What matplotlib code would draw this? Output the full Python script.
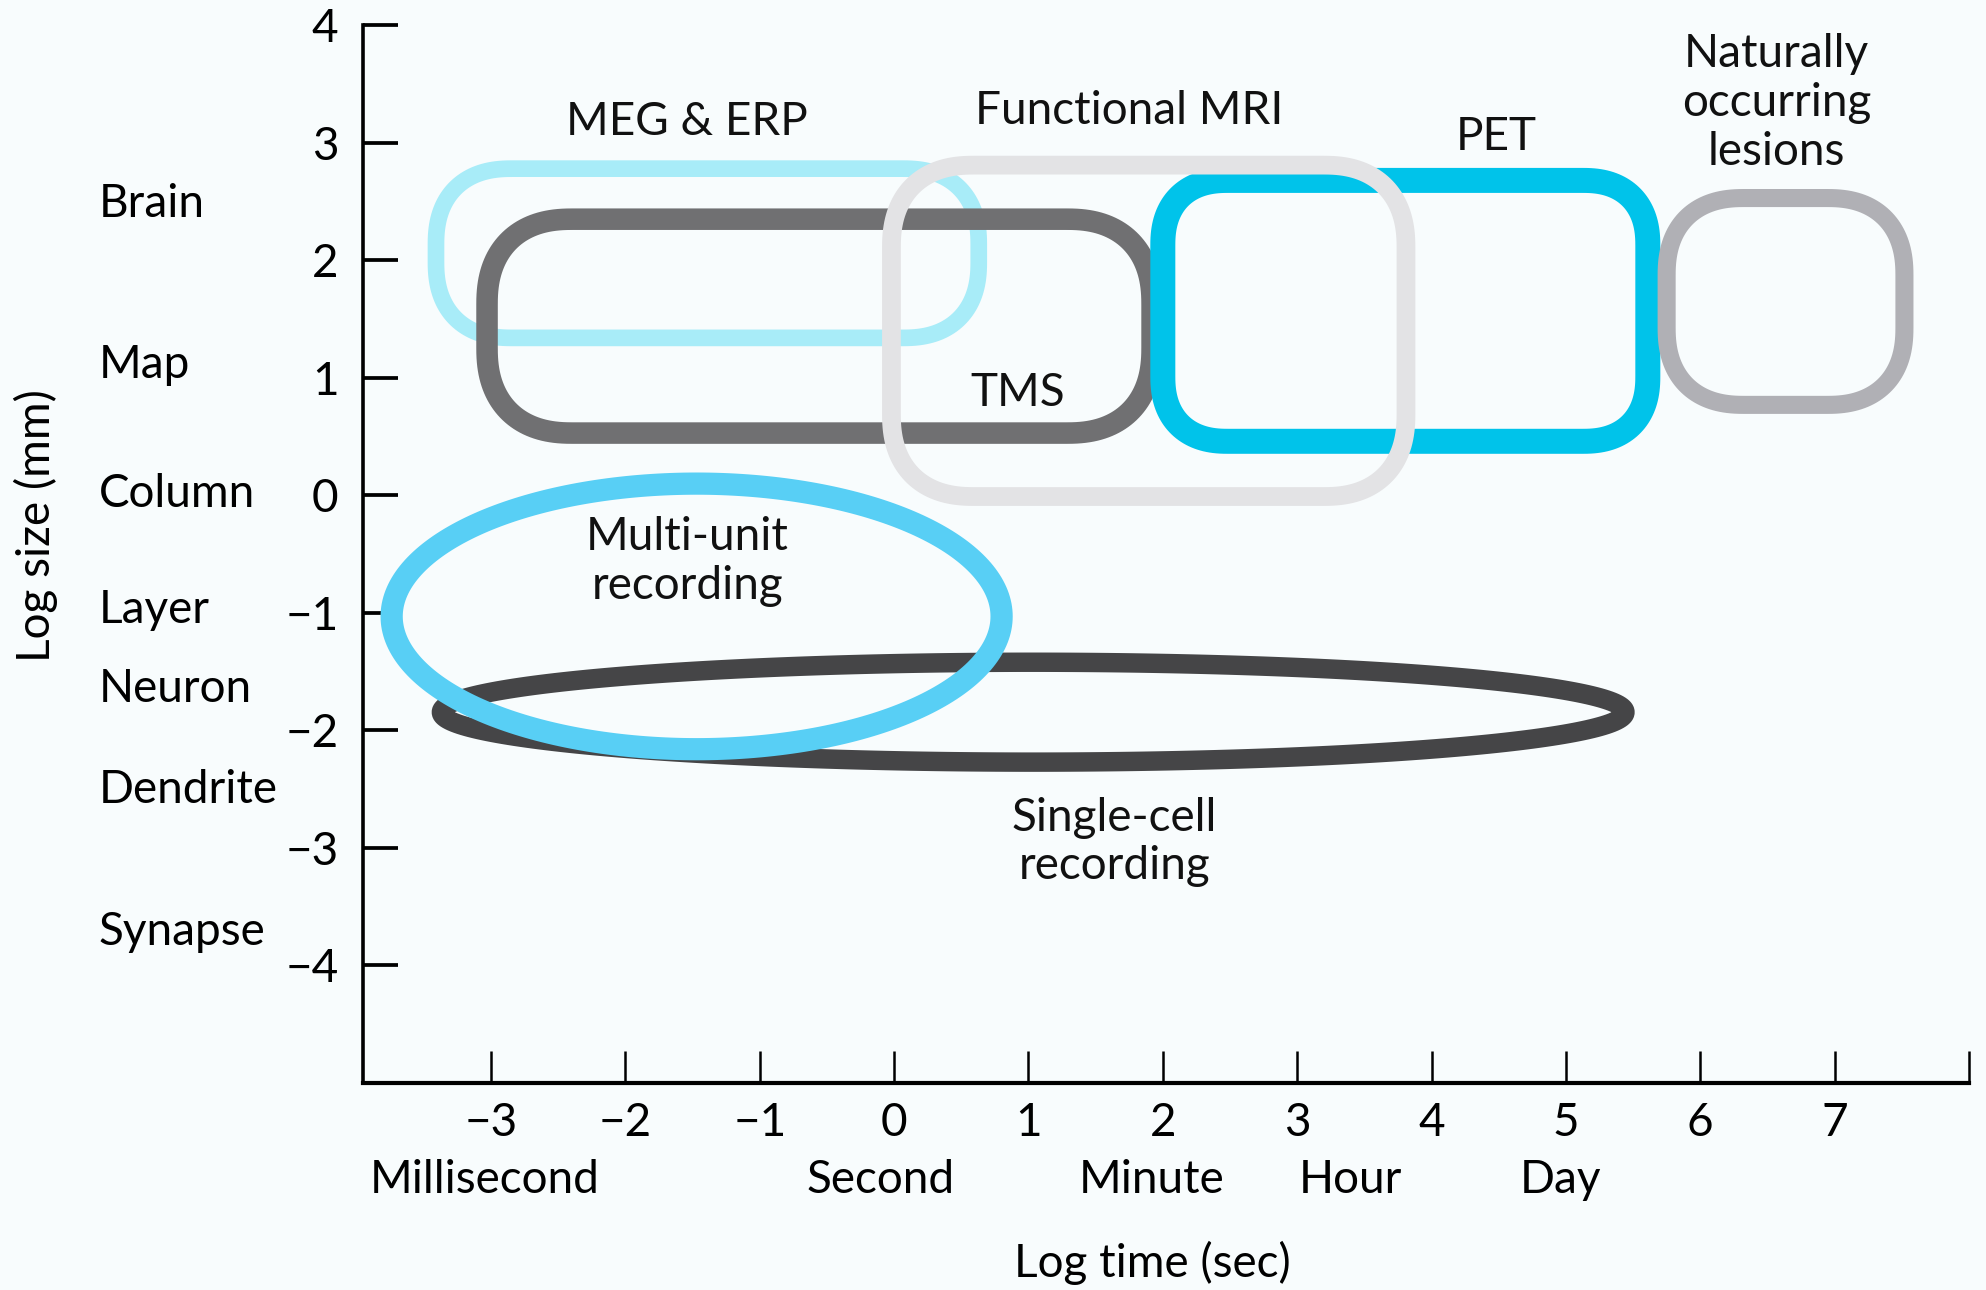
import matplotlib
matplotlib.use("Agg")
import matplotlib.pyplot as plt
import matplotlib.transforms as mtransforms
from matplotlib.patches import Polygon
import numpy as np

plt.rcParams['font.family'] = ['Lato', 'DejaVu Sans']

# Technique ranges: log time (s) and log size (mm)
Techniques = ['MEG & ERP', 'TMS', 'PET', 'Naturally occurring lesions', 'Functional MRI',
              'Single-cell recording', 'Multi-unit recording']
TimeLo = [-3.41, -3.03, 2.00, 5.75, -0.02, -3.37, -3.74]
TimeHi = [0.63, 1.92, 5.61, 7.52, 3.81, 5.44, 0.80]
SizeLo = [1.34, 0.53, 0.46, 0.77, -0.01, -2.27, -2.16]
SizeHi = [2.78, 2.35, 2.68, 2.53, 2.81, -1.42, 0.10]

# Text labels for each technique (centre, data coords)
LabelText = ['MEG & ERP', 'TMS', 'PET', 'Naturally\noccurring\nlesions', 'Functional MRI',
             'Single-cell\nrecording', 'Multi-unit\nrecording']
LabelX = [-1.54, 0.92, 4.48, 6.57, 1.75, 1.64, -1.54]
LabelY = [3.18, 0.87, 3.05, 3.34, 3.27, -2.95, -0.56]

# Anatomical scale names on the size axis
ScaleNames = ['Brain', 'Map', 'Column', 'Layer', 'Neuron', 'Dendrite', 'Synapse']
ScaleLogSize = [2.37, 1.00, -0.10, -1.09, -1.76, -2.62, -3.83]

# Time unit names on the time axis
TimeNames = ['Millisecond', 'Second', 'Minute', 'Hour', 'Day']
TimeLogSec = [-3.05, -0.10, 1.92, 3.40, 4.96]

XTicks = list(range(-3, 9))
XTickLabels = [str(v).replace('-', '\u2212') for v in range(-3, 8)] + ['']
YTicks = list(range(-4, 5))

# shape styles: (colour, line width, corner fraction; None = ellipse)
Styles = {
    'MEG & ERP': ('#a8ecf8', 12, 0.9),
    'TMS': ('#707072', 15.5, 0.8),
    'PET': ('#00c3ea', 18, 0.5),
    'Naturally occurring lesions': ('#b0b0b5', 13, 0.75),
    'Functional MRI': ('#e3e3e5', 13.5, 0.5),
    'Single-cell recording': ('#454547', 14, None),
    'Multi-unit recording': ('#58cff5', 16, None),
}


def RoundedLoop(Ax, X0, X1, Y0, Y1, Frac):
    """ Rounded rectangle whose corners are round in screen pixels. """
    Origin = Ax.transData.transform((0, 0))
    Sx = Ax.transData.transform((1, 0))[0] - Origin[0]
    Sy = Ax.transData.transform((0, 1))[1] - Origin[1]
    HalfW = (X1 - X0) / 2 * Sx
    HalfH = (Y1 - Y0) / 2 * Sy
    R = Frac * min(HalfW, HalfH)
    Rx, Ry = R / Sx, R / Sy
    Corners = [(X1 - Rx, Y1 - Ry, 0), (X0 + Rx, Y1 - Ry, 90),
               (X0 + Rx, Y0 + Ry, 180), (X1 - Rx, Y0 + Ry, 270)]
    Points = []
    for Cx, Cy, Start in Corners:
        T = np.radians(np.linspace(Start, Start + 90, 40))
        C, S = np.cos(T), np.sin(T)
        # slightly squarish corner (superellipse arc)
        Points.extend(zip(Cx + Rx * np.sign(C) * np.abs(C) ** 0.85,
                          Cy + Ry * np.sign(S) * np.abs(S) ** 0.85))
    return np.array(Points)


def EllipseLoop(X0, X1, Y0, Y1):
    T = np.linspace(0, 2 * np.pi, 300, endpoint=False)
    return np.column_stack(((X0 + X1) / 2 + (X1 - X0) / 2 * np.cos(T),
                            (Y0 + Y1) / 2 + (Y1 - Y0) / 2 * np.sin(T)))


Fig = plt.figure(figsize=(19.86, 12.90), dpi=100, facecolor='#f8fcfd')
Ax = Fig.add_axes([0.1830, 0.1605, 0.8084, 0.8199])
Ax.set_facecolor('#f8fcfd')
Ax.set_xlim(-3.95, 8.0)
Ax.set_ylim(-5.0, 4.0)

for i, Name in enumerate(Techniques):
    Color, Lw, Frac = Styles[Name]
    if Frac is None:
        Pts = EllipseLoop(TimeLo[i], TimeHi[i], SizeLo[i], SizeHi[i])
    else:
        Pts = RoundedLoop(Ax, TimeLo[i], TimeHi[i], SizeLo[i], SizeHi[i], Frac)
    Ax.add_patch(Polygon(Pts, closed=True, fill=False, edgecolor=Color, lw=Lw,
                         joinstyle='round', zorder=2 + i * 0.1))

for i, Text in enumerate(LabelText):
    Ax.text(LabelX[i], LabelY[i], Text, ha='center', va='center', fontsize=33,
            linespacing=1.2, color='#111111', zorder=5)

for Spine in ['top', 'right']:
    Ax.spines[Spine].set_visible(False)
Ax.spines['left'].set_linewidth(2.6)
Ax.spines['bottom'].set_linewidth(3.0)

Ax.set_xticks(XTicks)
Ax.set_xticklabels(XTickLabels)
Ax.set_yticks(YTicks)
Ax.tick_params(axis='y', direction='in', length=25, width=2.7, pad=18, labelsize=33)
Ax.tick_params(axis='x', direction='in', length=23, width=1.8, pad=14, labelsize=33)

LeftTrans = mtransforms.blended_transform_factory(Fig.transFigure, Ax.transData)
for Name, Y in zip(ScaleNames, ScaleLogSize):
    Ax.text(0.0497, Y, Name, transform=LeftTrans, ha='left', va='baseline', fontsize=33)

BottomTrans = mtransforms.blended_transform_factory(Ax.transData, Ax.transAxes)
for Name, X in zip(TimeNames, TimeLogSec):
    Ax.text(X, -0.092, Name, transform=BottomTrans, ha='center', va='center', fontsize=33)

Fig.text(0.5804, 0.0211, 'Log time (sec)', ha='center', va='center', fontsize=33)
Fig.text(0.0179, 0.5925, 'Log size (mm)', ha='center', va='center', rotation=90, fontsize=33)

Fig.savefig('out.png', dpi=100, facecolor=Fig.get_facecolor())
